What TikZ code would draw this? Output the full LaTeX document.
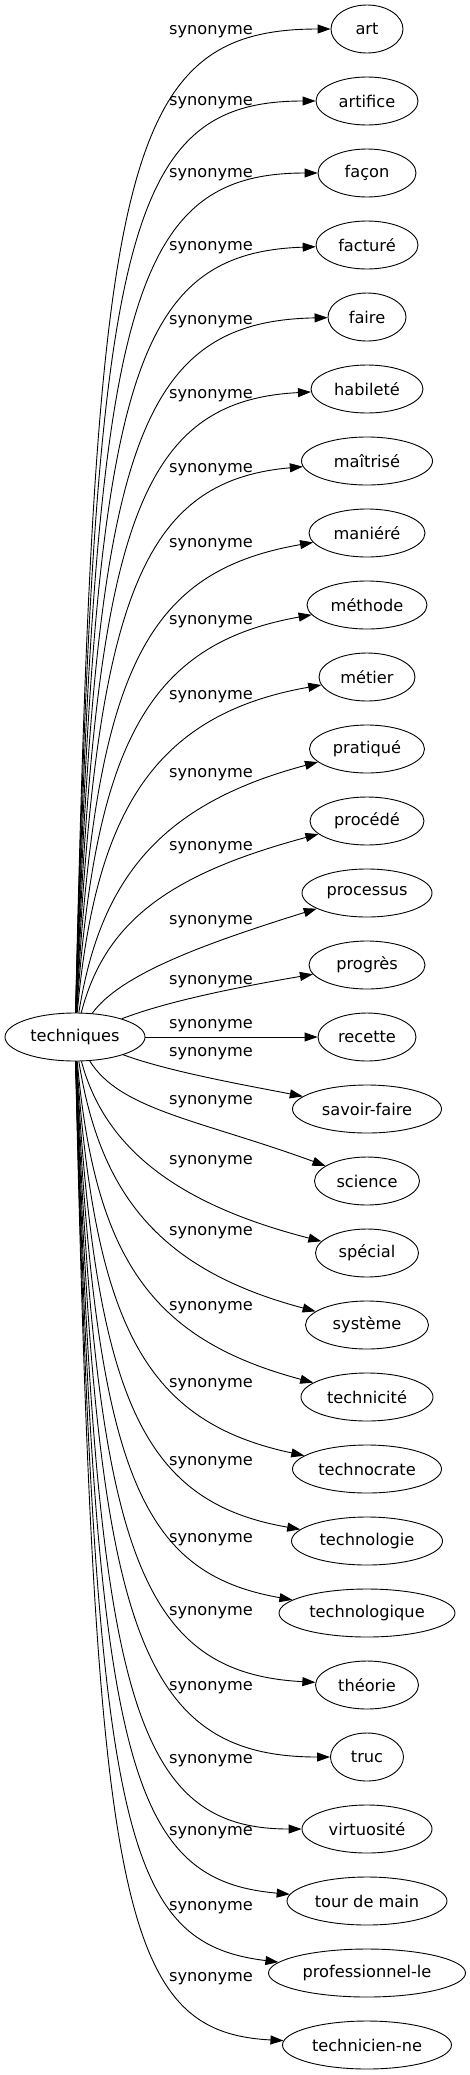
\documentclass[tikz,border=0pt]{standalone}
\usepackage{fontspec}
\setmainfont{DejaVu Sans}
\usetikzlibrary{arrows.meta,shapes.geometric}

\begin{document}
\begin{tikzpicture}[->,>={Triangle[length=13pt,width=9pt]},line width=0.9pt,
                    x=1pt,y=-1pt,node distance=72pt,
                    font=\fontsize{16.2}{19}\selectfont]

  \tikzstyle{word}=[ellipse,draw,inner sep=0pt,minimum height=48pt]
  \tikzstyle{rel}=[inner sep=0pt]

  \useasboundingbox (0,0) rectangle (470,2075);

  \node[word,minimum width=140pt] (tech) at (75,1037) {techniques};

  \node[word,minimum width=72pt]  (art)           at (367,29)         {art};
  \node[word,minimum width=102pt] (artifice)      [below of=art]      {artifice};
  \node[word,minimum width=98pt]  (facon)         [below of=artifice] {façon};
  \node[word,minimum width=102pt] (facture)       [below of=facon]    {facturé};
  \node[word,minimum width=78pt]  (faire)         [below of=facture]  {faire};
  \node[word,minimum width=112pt] (habilete)      [below of=faire]    {habileté};
  \node[word,minimum width=131pt] (maitrise)      [below of=habilete] {maîtrisé};
  \node[word,minimum width=116pt] (maniere)       [below of=maitrise] {maniéré};
  \node[word,minimum width=120pt] (methode)       [below of=maniere]  {méthode};
  \node[word,minimum width=96pt]  (metier)        [below of=methode]  {métier};
  \node[word,minimum width=115pt] (pratique)      [below of=metier]   {pratiqué};
  \node[word,minimum width=114pt] (procede)       [below of=pratique] {procédé};
  \node[word,minimum width=130pt] (processus)     [below of=procede]  {processus};
  \node[word,minimum width=116pt] (progres)       [below of=processus] {progrès};
  \node[word,minimum width=98pt]  (recette)       [below of=progres]  {recette};
  \node[word,minimum width=149pt] (savoirfaire)   [below of=recette]  {savoir-faire};
  \node[word,minimum width=105pt] (science)       [below of=savoirfaire] {science};
  \node[word,minimum width=103pt] (special)       [below of=science]  {spécial};
  \node[word,minimum width=123pt] (systeme)       [below of=special]  {système};
  \node[word,minimum width=132pt] (technicite)    [below of=systeme]  {technicité};
  \node[word,minimum width=149pt] (technocrate)   [below of=technicite] {technocrate};
  \node[word,minimum width=151pt] (technologie)   [below of=technocrate] {technologie};
  \node[word,minimum width=176pt] (technologique) [below of=technologie] {technologique};
  \node[word,minimum width=103pt] (theorie)       [below of=technologique] {théorie};
  \node[word,minimum width=73pt]  (truc)          [below of=theorie]  {truc};
  \node[word,minimum width=130pt] (virtuosite)    [below of=truc]     {virtuosité};
  \node[word,minimum width=160pt] (tourdemain)    [below of=virtuosite] {tour de main};
  \node[word,minimum width=197pt] (professionnel) [below of=tourdemain] {professionnel-le};
  \node[word,minimum width=169pt] (technicien)    [below of=professionnel] {technicien-ne};

  % upper fan
  \draw (tech) .. controls (95,169)  and (120,29)  .. (art);
  \draw (tech) .. controls (95,241)  and (123,101) .. (artifice);
  \draw (tech) .. controls (95,313)  and (127,173) .. (facon);
  \draw (tech) .. controls (95,385)  and (130,253) .. (facture);
  \draw (tech) .. controls (95,457)  and (133,321) .. (faire);
  \draw (tech) .. controls (95,529)  and (137,401) .. (habilete);
  \draw (tech) .. controls (95,601)  and (140,481) .. (maitrise);
  \draw (tech) .. controls (95,673)  and (143,572) .. (maniere);
  \draw (tech) .. controls (95,745)  and (147,644) .. (methode);
  \draw (tech) .. controls (95,817)  and (150,715) .. (metier);
  \draw (tech) .. controls (100,879) and (160,804) .. (pratique);
  \draw (tech) .. controls (105,921) and (170,874) .. (procede);
  \draw (tech) .. controls (120,975) and (200,945) .. (processus);
  \draw (tech) .. controls (170,1000) and (250,985) .. (progres);
  \draw (tech) -- (recette);

  % lower fan
  \draw (tech) .. controls (170,1072) and (250,1086) .. (savoirfaire);
  \draw (tech) .. controls (120,1110) and (200,1120) .. (science);
  \draw (tech) .. controls (105,1150) and (180,1205) .. (special);
  \draw (tech) .. controls (100,1195) and (160,1270) .. (systeme);
  \draw (tech) .. controls (95,1257)  and (150,1339) .. (technicite);
  \draw (tech) .. controls (95,1329)  and (147,1422) .. (technocrate);
  \draw (tech) .. controls (95,1401)  and (143,1502) .. (technologie);
  \draw (tech) .. controls (95,1473)  and (140,1573) .. (technologique);
  \draw (tech) .. controls (95,1545)  and (137,1673) .. (theorie);
  \draw (tech) .. controls (95,1617)  and (133,1757) .. (truc);
  \draw (tech) .. controls (95,1689)  and (130,1829) .. (virtuosite);
  \draw (tech) .. controls (95,1761)  and (127,1880) .. (tourdemain);
  \draw (tech) .. controls (95,1833)  and (123,1943) .. (professionnel);
  \draw (tech) .. controls (95,1905)  and (120,2032) .. (technicien);

  % edge labels
  \node[rel] (r-art)           at (211,32)   {synonyme};
  \node[rel] (r-artifice)      at (211,103)  {synonyme};
  \node[rel] (r-facon)         at (211,175)  {synonyme};
  \node[rel] (r-facture)       at (211,248)  {synonyme};
  \node[rel] (r-faire)         at (211,322)  {synonyme};
  \node[rel] (r-habilete)      at (211,396)  {synonyme};
  \node[rel] (r-maitrise)      at (211,470)  {synonyme};
  \node[rel] (r-maniere)       at (211,545)  {synonyme};
  \node[rel] (r-methode)       at (211,622)  {synonyme};
  \node[rel] (r-metier)        at (211,697)  {synonyme};
  \node[rel] (r-pratique)      at (211,775)  {synonyme};
  \node[rel] (r-procede)       at (211,848)  {synonyme};
  \node[rel] (r-processus)     at (211,922)  {synonyme};
  \node[rel] (r-progres)       at (211,982)  {synonyme};
  \node[rel] (r-recette)       at (211,1026) {synonyme};
  \node[rel] (r-savoirfaire)   at (211,1054) {synonyme};
  \node[rel] (r-science)       at (211,1102) {synonyme};
  \node[rel] (r-special)       at (211,1162) {synonyme};
  \node[rel] (r-systeme)       at (211,1233) {synonyme};
  \node[rel] (r-technicite)    at (211,1308) {synonyme};
  \node[rel] (r-technocrate)   at (211,1385) {synonyme};
  \node[rel] (r-technologie)   at (211,1463) {synonyme};
  \node[rel] (r-technologique) at (211,1540) {synonyme};
  \node[rel] (r-theorie)       at (211,1613) {synonyme};
  \node[rel] (r-truc)          at (211,1688) {synonyme};
  \node[rel] (r-virtuosite)    at (211,1761) {synonyme};
  \node[rel] (r-tourdemain)    at (211,1833) {synonyme};
  \node[rel] (r-professionnel) at (211,1908) {synonyme};
  \node[rel] (r-technicien)    at (211,1979) {synonyme};
\end{tikzpicture}
\end{document}
